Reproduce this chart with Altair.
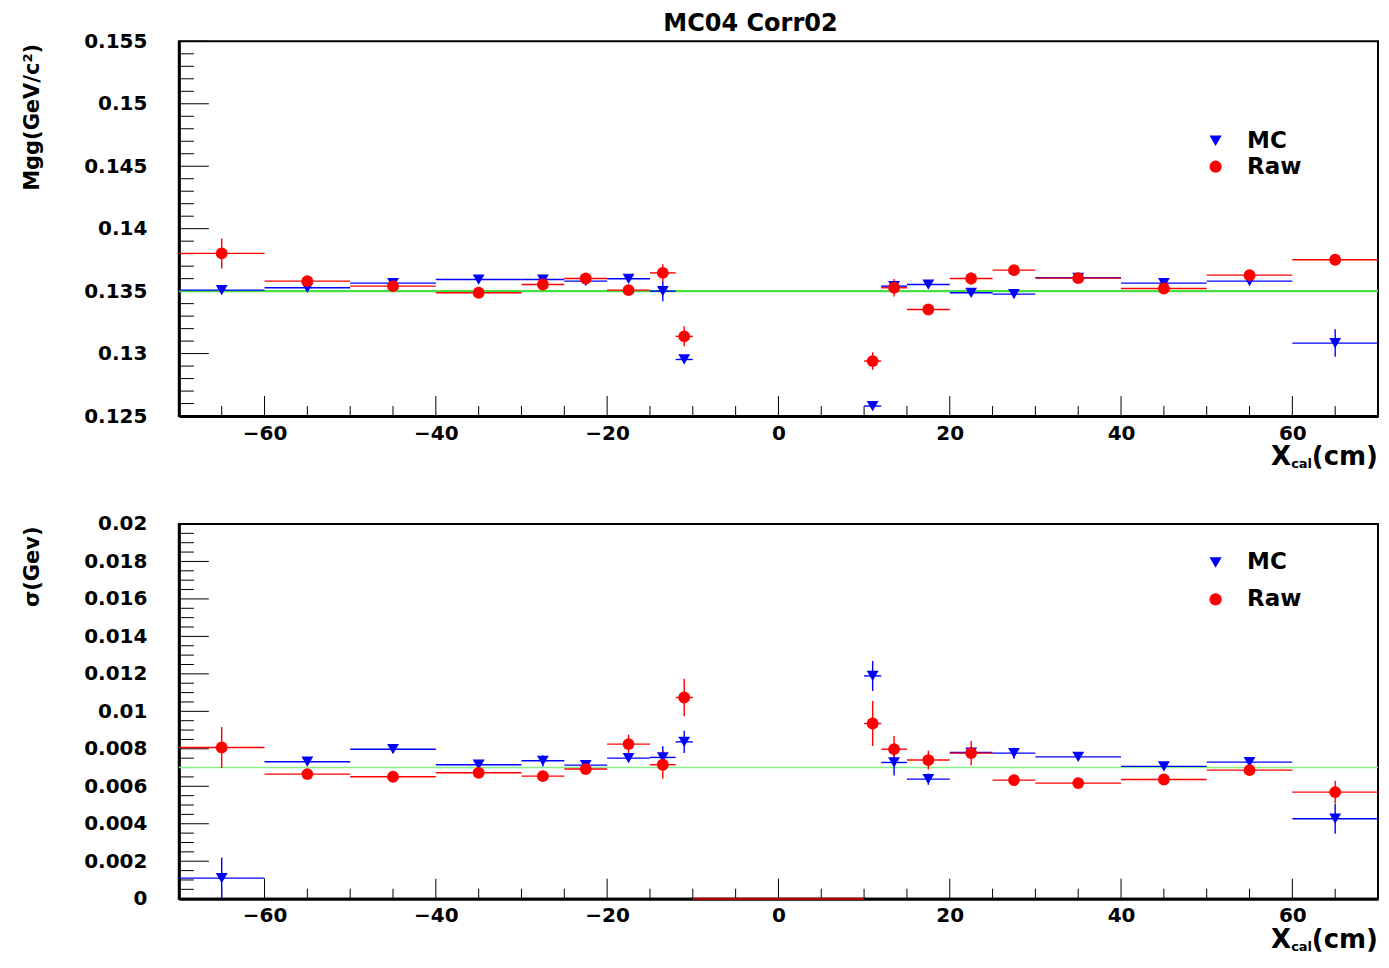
import altair as alt
import pandas as pd

FONT = "DejaVu Sans"
TITLE = "MC04 Corr02"
series_names = ["MC", "Raw"]
series_colors = ["#0000ff", "#ff0000"]
series_shapes = ["triangle-down", "circle"]

bin_lo = [-70, -60, -50, -40, -30, -25, -20, -15, -12, 10, 12, 15, 20, 25, 30, 40, 50, 60]
bin_hi = [-60, -50, -40, -30, -25, -20, -15, -12, -10, 12, 15, 20, 25, 30, 40, 50, 60, 70]

mgg_mc = [0.13508, 0.13527, 0.13564, 0.13593, 0.13593, 0.13580, 0.13599, 0.13500, 0.12953,
          0.12580, 0.13540, 0.13553, 0.13487, 0.13476, 0.13607, 0.13564, 0.13580, 0.13084]
mgg_mc_err = [0.0002, 0.0001, 0.0001, 0.0001, 0.0001, 0.0001, 0.0001, 0.0008, 0.0003,
              0.0003, 0.0004, 0.0001, 0.0001, 0.0001, 0.0001, 0.0001, 0.0001, 0.0011]
mgg_raw = [0.13802, 0.13580, 0.13540, 0.13487, 0.13553, 0.13601, 0.13508, 0.13646, 0.13138,
           0.12940, 0.13527, 0.13353, 0.13601, 0.13668, 0.13604, 0.13521, 0.13628, 0.13751]
mgg_raw_err = [0.0012, 0.0002, 0.0002, 0.0002, 0.0002, 0.0002, 0.0002, 0.0007, 0.0008,
               0.0007, 0.0007, 0.0002, 0.0005, 0.0002, 0.0002, 0.0002, 0.0002, 0.0004]

sig_mc = [0.00110, 0.00731, 0.00798, 0.00715, 0.00736, 0.00713, 0.00750, 0.00754, 0.00837,
          0.01189, 0.00727, 0.00638, 0.00780, 0.00777, 0.00757, 0.00706, 0.00729, 0.00427]
sig_mc_err = [0.0011, 0.0002, 0.0002, 0.0002, 0.0003, 0.0002, 0.0002, 0.0006, 0.0006,
              0.0008, 0.0007, 0.0003, 0.0003, 0.0003, 0.0002, 0.0002, 0.0002, 0.0008]
sig_raw = [0.00807, 0.00665, 0.00651, 0.00672, 0.00654, 0.00692, 0.00825, 0.00715, 0.01074,
           0.00935, 0.00798, 0.00740, 0.00777, 0.00633, 0.00617, 0.00636, 0.00686, 0.00569]
sig_raw_err = [0.0011, 0.0002, 0.0002, 0.0002, 0.0003, 0.0003, 0.0005, 0.00075, 0.0010,
               0.0012, 0.0007, 0.0005, 0.00065, 0.0003, 0.0002, 0.0002, 0.0003, 0.0006]

# empty central bin drawn on the sigma panel
empty_lo = [-10]
empty_hi = [10]
empty_val = [0.0]

mgg_ref = 0.135
sig_ref = 0.007

x_major = [-60, -40, -20, 0, 20, 40, 60]
x_minor = [v for v in range(-65, 70, 5) if v not in x_major]

top_major = [0.125, 0.13, 0.135, 0.14, 0.145, 0.15, 0.155]
top_minor = [round(0.125 + 0.001 * i, 3) for i in range(1, 30) if i % 5 != 0]
bot_major = [0.0, 0.002, 0.004, 0.006, 0.008, 0.01, 0.012, 0.014, 0.016, 0.018, 0.02]
bot_minor = [round(0.0005 * i, 4) for i in range(1, 40) if i % 4 != 0]

W, H = 1200, 375
LEFT, TOP = 170, 32


def make_df(mc, mc_err, raw, raw_err):
    rows = []
    for name, vals, errs in (("MC", mc, mc_err), ("Raw", raw, raw_err)):
        for lo, hi, v, e in zip(bin_lo, bin_hi, vals, errs):
            rows.append(dict(series=name, lo=lo, hi=hi, xc=(lo + hi) / 2,
                             v=v, vlo=v - e, vhi=v + e))
    return pd.DataFrame(rows)


def panel(df, ydom, ymaj, ymin, ytitle, ref, ref_color, ref_width,
          leg_y, leg_pad, title=None, zero=False):
    xs = alt.Scale(domain=[-70, 70], nice=False, zero=False)
    ys = alt.Scale(domain=ydom, nice=False, zero=False)
    xax = alt.Axis(values=x_major, title=None, ticks=False, tickSize=0,
                   labelPadding=7, labelFontSize=20, labelOverlap=False)
    yax = alt.Axis(values=ymaj, format=".3~f", title=ytitle, ticks=False,
                   tickSize=0, labelPadding=32, labelFontSize=20,
                   labelFlush=False, labelOverlap=False,
                   titleFontSize=21, titleAngle=-90, titleAlign="right",
                   titleBaseline="middle", titleX=-146, titleY=2)
    cscale = alt.Scale(domain=series_names, range=series_colors)
    sscale = alt.Scale(domain=series_names, range=series_shapes)
    legend = alt.Legend(title=None, orient="none", legendX=W - 174, legendY=leg_y,
                        labelFont=FONT, labelFontSize=23, labelFontWeight="bold",
                        labelColor="black", symbolSize=150, rowPadding=leg_pad,
                        labelOffset=20, symbolStrokeWidth=0)

    base = alt.Chart(df)
    hbar = base.mark_rule(strokeWidth=1.4).encode(
        x=alt.X("lo:Q", scale=xs, axis=xax), x2="hi:Q",
        y=alt.Y("v:Q", scale=ys, axis=yax),
        stroke=alt.Stroke("series:N", scale=cscale, legend=None))
    vbar = base.mark_rule(strokeWidth=1.4).encode(
        x=alt.X("xc:Q", scale=xs, axis=xax),
        y=alt.Y("vlo:Q", scale=ys, axis=yax), y2="vhi:Q",
        stroke=alt.Stroke("series:N", scale=cscale, legend=None))
    pts = base.mark_point(filled=True, size=140, opacity=1, strokeWidth=0).encode(
        x=alt.X("xc:Q", scale=xs, axis=xax),
        y=alt.Y("v:Q", scale=ys, axis=yax),
        color=alt.Color("series:N", scale=cscale, legend=legend),
        shape=alt.Shape("series:N", scale=sscale, legend=legend))

    refline = alt.Chart(pd.DataFrame({"v": [ref]})).mark_rule(
        color=ref_color, strokeWidth=ref_width).encode(
        y=alt.Y("v:Q", scale=ys, axis=yax))

    def xticks(vals, length):
        return alt.Chart(pd.DataFrame({"t": vals})).mark_rule(
            color="black", strokeWidth=1).encode(
            x=alt.X("t:Q", scale=xs, axis=xax),
            y=alt.value(H), y2=alt.value(H - length))

    def yticks(vals, length):
        return alt.Chart(pd.DataFrame({"t": vals})).mark_rule(
            color="black", strokeWidth=1).encode(
            y=alt.Y("t:Q", scale=ys, axis=yax),
            x=alt.value(0), x2=alt.value(length))

    d1 = pd.DataFrame({"a": [0]})
    big = dict(font=FONT, fontSize=26, fontWeight="bold", color="black",
               align="right", baseline="alphabetic")
    t_cm = alt.Chart(d1).mark_text(**big).encode(
        x=alt.value(W), y=alt.value(H + 49), text=alt.value("(cm)"))
    t_cal = alt.Chart(d1).mark_text(font=FONT, fontSize=13, fontWeight="bold",
                                     color="black", align="right",
                                     baseline="alphabetic").encode(
        x=alt.value(W - 66), y=alt.value(H + 52), text=alt.value("cal"))
    t_x = alt.Chart(d1).mark_text(**big).encode(
        x=alt.value(W - 87), y=alt.value(H + 49), text=alt.value("X"))

    layers = [yticks(ymin, 15), yticks(ymaj, 30), xticks(x_minor, 10),
              xticks(x_major, 20), refline, hbar, vbar, pts, t_cm, t_cal, t_x]
    if zero:
        zdf = pd.DataFrame({"lo": empty_lo, "hi": empty_hi, "v": empty_val})
        layers.append(alt.Chart(zdf).mark_rule(color="#c00000", strokeWidth=2).encode(
            x=alt.X("lo:Q", scale=xs, axis=xax), x2="hi:Q",
            y=alt.Y("v:Q", scale=ys, axis=yax)))
    if title:
        # page title, placed above the plot frame
        layers.append(alt.Chart(d1).mark_text(
            font=FONT, fontSize=24, fontWeight="bold", color="black",
            align="center", baseline="top").encode(
            x=alt.value(W / 2 - 28), y=alt.value(-29), text=alt.value(title)))
        # invisible anchor fixing the top-left corner of the layout
        layers.append(alt.Chart(d1).mark_rule(strokeOpacity=0, strokeWidth=1).encode(
            x=alt.value(-LEFT), x2=alt.value(-LEFT), y=alt.value(-TOP), y2=alt.value(-TOP + 1)))
    return alt.layer(*layers).properties(width=W, height=H)


top = panel(make_df(mgg_mc, mgg_mc_err, mgg_raw, mgg_raw_err),
            [0.125, 0.155], top_major, top_minor, "Mgg(GeV/c²)",
            mgg_ref, "#44e044", 2.2, 88, 2, title=TITLE)
bottom = panel(make_df(sig_mc, sig_mc_err, sig_raw, sig_raw_err),
               [0.0, 0.02], bot_major, bot_minor, "σ(Gev)",
               sig_ref, "#88ee88", 1.5, 27, 13, zero=True)

chart = alt.vconcat(top, bottom, spacing=108, bounds="flush").resolve_scale(
    color="independent", shape="independent"
).properties(padding=0, background="white").configure_view(
    stroke="black", strokeWidth=2
).configure_axis(
    domainColor="black", domainWidth=3, grid=False, labelColor="black",
    labelFont=FONT, labelFontWeight="bold", titleFont=FONT,
    titleFontWeight="bold", titleColor="black"
)

chart.save("out.html", embed_options={"renderer": "svg", "actions": False})
